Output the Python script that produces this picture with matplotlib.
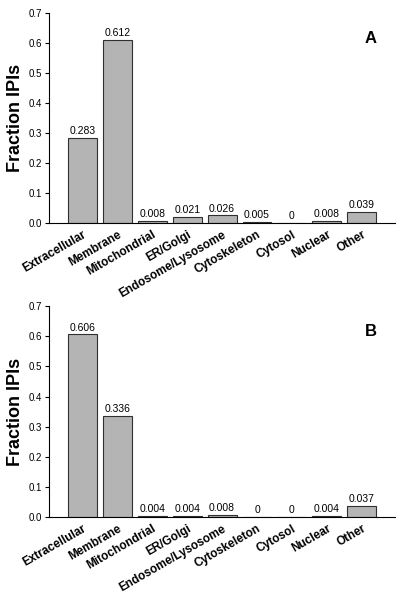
import matplotlib.pyplot as plt
import numpy as np

plt.rcParams['font.family'] = ['Liberation Sans', 'DejaVu Sans']

categories = ["Extracellular", "Membrane", "Mitochondrial", "ER/Golgi", "Endosome/Lysosome",
              "Cytoskeleton", "Cytosol", "Nuclear", "Other"]
values_a = [0.283, 0.612, 0.008, 0.021, 0.026, 0.005, 0, 0.008, 0.039]
labels_a = ["0.283", "0.612", "0.008", "0.021", "0.026", "0.005", "0", "0.008", "0.039"]
values_b = [0.606, 0.336, 0.004, 0.004, 0.008, 0, 0, 0.004, 0.037]
labels_b = ["0.606", "0.336", "0.004", "0.004", "0.008", "0", "0", "0.004", "0.037"]
yticks = [0.0, 0.1, 0.2, 0.3, 0.4, 0.5, 0.6, 0.7]

fig = plt.figure(figsize=(4.05, 6), dpi=100)
ax_a = fig.add_axes([0.121, 0.628, 0.854, 0.35])
ax_b = fig.add_axes([0.121, 0.138, 0.854, 0.352])

def draw_panel(ax, values, labels, letter):
    x = np.arange(len(categories))
    ax.bar(x, values, width=0.83, color="#b4b4b4", edgecolor="#303030", linewidth=0.8)
    for xi, v, lab in zip(x, values, labels):
        ax.text(xi, v + 0.006, lab, ha="center", va="bottom", fontsize=7.5)
    ax.set_xlim(-0.96, 8.95)
    ax.set_ylim(0, 0.7)
    ax.set_yticks(yticks)
    ax.set_yticklabels(["%.1f" % t for t in yticks], fontsize=7)
    ax.set_xticks(x)
    ax.set_xticklabels(categories, rotation=30, ha="right", rotation_mode="anchor",
                       fontsize=8.5, fontweight="bold")
    ax.tick_params(axis="x", length=0, pad=4)
    ax.tick_params(axis="y", length=3, width=0.8, pad=2)
    ax.spines["top"].set_visible(False)
    ax.spines["right"].set_visible(False)
    ax.set_ylabel("Fraction IPIs", fontsize=13, fontweight="bold", labelpad=3)
    ax.text(0.93, 0.88, letter, transform=ax.transAxes, fontsize=12, fontweight="bold",
            ha="center", va="center")

draw_panel(ax_a, values_a, labels_a, "A")
draw_panel(ax_b, values_b, labels_b, "B")

fig.savefig("out.png", dpi=100)
